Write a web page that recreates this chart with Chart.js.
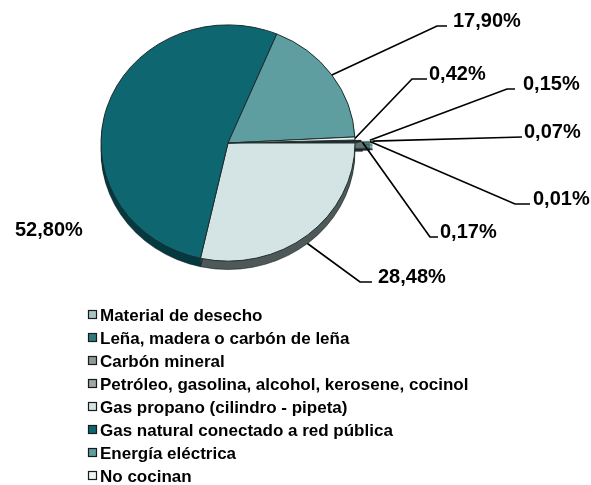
<!DOCTYPE html>
<html><head><meta charset="utf-8">
<script src="https://cdn.jsdelivr.net/npm/chart.js@4.4.0/dist/chart.umd.min.js"></script>
<style>html,body{margin:0;padding:0;background:#fff}canvas{display:block}</style>
</head><body>
<canvas id="c" width="591" height="485"></canvas>
<script>
// ---- data ----
const categories = [
  "Material de desecho",
  "Leña, madera o carbón de leña",
  "Carbón mineral",
  "Petróleo, gasolina, alcohol, kerosene, cocinol",
  "Gas propano (cilindro - pipeta)",
  "Gas natural conectado a red pública",
  "Energía eléctrica",
  "No cocinan"
];
const shares = [0.15, 0.07, 0.01, 0.17, 28.48, 52.80, 17.90, 0.42];
const valueLabels = shares.map(v => v.toFixed(2).replace('.', ',') + '%');

// ---- styles ----
const faceColors = ["#a9c6c6", "#2f7a80", "#8d9a9a", "#9ea6a6", "#d4e4e4", "#0e6670", "#5f9ea0", "#eef4f4"];
const sideColors = ["#6f8c8c", "#1b4f54", "#5e6a6a", "#6a7474", "#4f5959", "#053a40", "#3c6e70", "#a8b4b4"];
const explodeOffsets = [12, 14, 12, 6, 0, 0, 0, 0];
const SY = 0.93;      // vertical squash of the pie
const DEPTH = 9;      // 3D thickness
// label layout: leader elbow x/y, leader end x, text x  (null elbow = no leader)
const labelLayout = [
  {elbow: [507, 89], endX: 515, textX: 523},
  {elbow: [522, 137], endX: 522, textX: 524},
  {elbow: [515, 204], endX: 530, textX: 533},
  {elbow: [430, 237], endX: 438, textX: 440},
  {elbow: [360, 282], endX: 372, textX: 378},
  {elbow: null, textX: 15, textY: 236},
  {elbow: [437, 26], endX: 447, textX: 453},
  {elbow: [412, 79], endX: 427, textX: 429}
];

function sectorPath(ctx, el, dy) {
  const p = el.getProps(['x', 'y', 'startAngle', 'endAngle', 'outerRadius', 'circumference']);
  const off = el.options.offset || 0;
  const mid = (p.startAngle + p.endAngle) / 2;
  const fix = 1 - Math.sin(Math.min(Math.PI, p.circumference || 0));
  const r = p.outerRadius + off * fix;
  const cx = p.x + Math.cos(mid) * off / 4;
  const cy = p.y + Math.sin(mid) * off / 4 + dy;
  ctx.beginPath();
  ctx.moveTo(cx, cy);
  ctx.arc(cx, cy, r, p.startAngle, p.endAngle);
  ctx.closePath();
}

const pie3d = {
  id: 'pie3d',
  beforeDatasetsDraw(chart) {
    const ctx = chart.ctx;
    const meta = chart.getDatasetMeta(0);
    const el0 = meta.data[0];
    ctx.save();
    ctx.translate(el0.x, el0.y);
    ctx.scale(1, SY);
    ctx.translate(-el0.x, -el0.y);
    for (let d = DEPTH; d >= 1; d--) {
      meta.data.forEach((el, i) => {
        ctx.fillStyle = sideColors[i];
        sectorPath(ctx, el, d);
        ctx.fill();
      });
    }
    meta.data.forEach((el, i) => {
      ctx.strokeStyle = 'rgba(20,30,30,0.6)';
      ctx.lineWidth = 1;
      sectorPath(ctx, el, DEPTH);
      ctx.stroke();
    });
  },
  afterDatasetsDraw(chart) {
    chart.ctx.restore();
  },
  afterDraw(chart) {
    const ctx = chart.ctx;
    const meta = chart.getDatasetMeta(0);
    ctx.save();
    ctx.font = 'bold 20px "Liberation Sans", Arial, sans-serif';
    ctx.fillStyle = '#000';
    ctx.strokeStyle = '#000';
    ctx.lineWidth = 1.7;
    ctx.textBaseline = 'alphabetic';
    meta.data.forEach((el, i) => {
      const L = labelLayout[i];
      if (!L.elbow) {
        ctx.fillText(valueLabels[i], L.textX, L.textY);
        return;
      }
      const p = el.getProps(['x', 'y', 'startAngle', 'endAngle', 'outerRadius', 'circumference']);
      const off = el.options.offset || 0;
      const mid = (p.startAngle + p.endAngle) / 2;
      const fix = 1 - Math.sin(Math.min(Math.PI, p.circumference || 0));
      const r = p.outerRadius + off * fix + off / 4;
      let sx = p.x + Math.cos(mid) * r;
      let sy = p.y + Math.sin(mid) * r * SY;
      if (Math.sin(mid) > 0.5) sy += DEPTH * SY;
      ctx.beginPath();
      ctx.moveTo(sx, sy);
      ctx.lineTo(L.elbow[0], L.elbow[1]);
      ctx.lineTo(L.endX, L.elbow[1]);
      ctx.stroke();
      ctx.fillText(valueLabels[i], L.textX, L.elbow[1] + 1);
    });
    ctx.font = 'bold 17px "Liberation Sans", Arial, sans-serif';
    categories.forEach((name, i) => {
      const base = 321 + 23 * i;
      ctx.fillStyle = faceColors[i];
      ctx.fillRect(88.5, base - 10.5, 8, 8);
      ctx.strokeStyle = '#1a1a1a';
      ctx.lineWidth = 1.2;
      ctx.strokeRect(88.5, base - 10.5, 8, 8);
      ctx.fillStyle = '#000';
      ctx.fillText(name, 100, base);
    });
    ctx.restore();
  }
};

new Chart(document.getElementById('c'), {
  type: 'pie',
  data: {
    labels: categories,
    datasets: [{
      data: shares,
      backgroundColor: faceColors,
      borderColor: '#1d2c2c',
      borderWidth: 1,
      offset: explodeOffsets,
      hoverOffset: 0,
      clip: false
    }]
  },
  options: {
    responsive: false,
    animation: false,
    rotation: 90 - (shares[0] + shares[1] + shares[2] + shares[3]) * 3.6,
    radius: 127,
    layout: {padding: {left: 101, right: 236, top: 16, bottom: 215}},
    plugins: {legend: {display: false}, tooltip: {enabled: false}}
  },
  plugins: [pie3d]
});
</script>
</body></html>
